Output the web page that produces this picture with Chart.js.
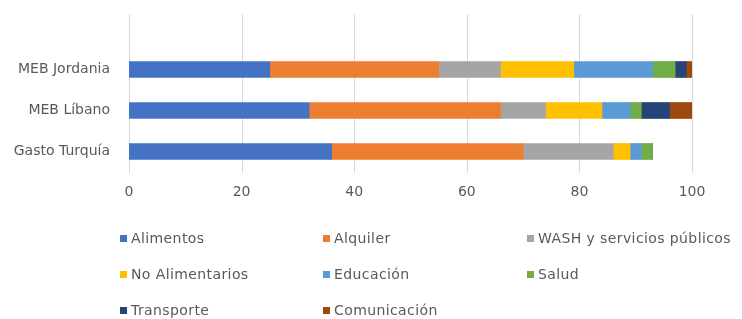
<!DOCTYPE html>
<html>
<head>
<meta charset="utf-8">
<script src="https://cdn.jsdelivr.net/npm/chart.js@4"></script>
<style>
  body { margin: 0; background: #fff; }
  #wrap { position: relative; width: 742px; height: 319px; }
  #chartBox { position: absolute; left: 0; top: 0; width: 742px; height: 205px; }
  #legend { position: absolute; left: 0; top: 0; width: 742px; height: 319px; pointer-events: none; }
  .item { position: absolute; font: 14px "DejaVu Sans", sans-serif; letter-spacing: 0.4px; color: #595959; white-space: nowrap; line-height: 16px; }
  .item span.box { display: inline-block; width: 7px; height: 7px; margin-right: 4px; vertical-align: 1px; }
</style>
</head>
<body>
<div id="wrap">
  <div id="chartBox"><canvas id="gasto-chart"></canvas></div>
  <div id="legend"></div>
</div>
<script>
// Categorías y valores (% del gasto)
var categorias = ['MEB Jordania', 'MEB Líbano', 'Gasto Turquía'];
var series = ['Alimentos', 'Alquiler', 'WASH y servicios  públicos', 'No Alimentarios',
              'Educación', 'Salud', 'Transporte', 'Comunicación'];
var alimentos      = [25, 32, 36];
var alquiler       = [30, 34, 34];
var wash           = [11, 8, 16];
var noAlimentarios = [13, 10, 3];
var educacion      = [14, 5, 2];
var salud          = [4, 2, 2];
var transporte     = [2, 5, 0];
var comunicacion   = [1, 4, 0];
var ticksX = [0, 20, 40, 60, 80, 100];

var colores = ['#4472C4', '#ED7D31', '#A5A5A5', '#FFC000', '#5B9BD5', '#70AD47', '#264478', '#9E480E'];
var valores = [alimentos, alquiler, wash, noAlimentarios, educacion, salud, transporte, comunicacion];

document.addEventListener('DOMContentLoaded', function () {
    var datasets = series.map(function (nombre, i) {
        return {
            label: nombre,
            data: valores[i],
            backgroundColor: colores[i],
            borderWidth: 0,
            barThickness: 16
        };
    });

    // alarga las líneas de la cuadrícula hacia arriba
    var gridArriba = {
        id: 'gridArriba',
        beforeDatasetsDraw: function (chart) {
            var ctx = chart.ctx, x = chart.scales.x, area = chart.chartArea;
            ctx.save();
            ctx.strokeStyle = '#D9D9D9';
            ctx.lineWidth = 1;
            ticksX.forEach(function (v) {
                var px = Math.round(x.getPixelForValue(v)) + 0.5;
                ctx.beginPath();
                ctx.moveTo(px, 14);
                ctx.lineTo(px, area.bottom + 1);
                ctx.stroke();
            });
            ctx.restore();
        }
    };

    var config = {
        type: 'bar',
        data: { labels: categorias, datasets: datasets },
        options: {
            indexAxis: 'y',
            responsive: true,
            maintainAspectRatio: false,
            animation: false,
            layout: { padding: { top: 49, right: 50, left: 0, bottom: 0 } },
            plugins: { legend: { display: false }, tooltip: { enabled: false } },
            scales: {
                x: {
                    stacked: true,
                    min: 0,
                    max: 100,
                    afterBuildTicks: function (s) { s.ticks = ticksX.map(function (v) { return { value: v }; }); },
                    grid: { display: false, drawTicks: false },
                    border: { display: false },
                    ticks: { color: '#595959', padding: 12, font: { family: 'DejaVu Sans', size: 14 } },
                    afterFit: function (s) { s.height = 33; }
                },
                y: {
                    stacked: true,
                    grid: { display: false, drawTicks: false },
                    border: { display: false },
                    ticks: { color: '#595959', padding: 19, font: { family: 'DejaVu Sans', size: 14 } },
                    afterFit: function (s) { s.width = 129; }
                }
            }
        },
        plugins: [gridArriba]
    };

    var chart = new Chart(document.getElementById('gasto-chart').getContext('2d'), config);

    // leyenda en tres columnas
    var cols = [120, 323, 527], filas = [238, 274, 310];
    var leg = document.getElementById('legend');
    chart.data.datasets.forEach(function (ds, i) {
        var d = document.createElement('div');
        d.className = 'item';
        d.style.left = cols[i % 3] + 'px';
        d.style.top = (filas[Math.floor(i / 3)] - 8) + 'px';
        d.innerHTML = '<span class="box" style="background:' + ds.backgroundColor + '"></span>' + ds.label;
        leg.appendChild(d);
    });
});
</script>
</body>
</html>
